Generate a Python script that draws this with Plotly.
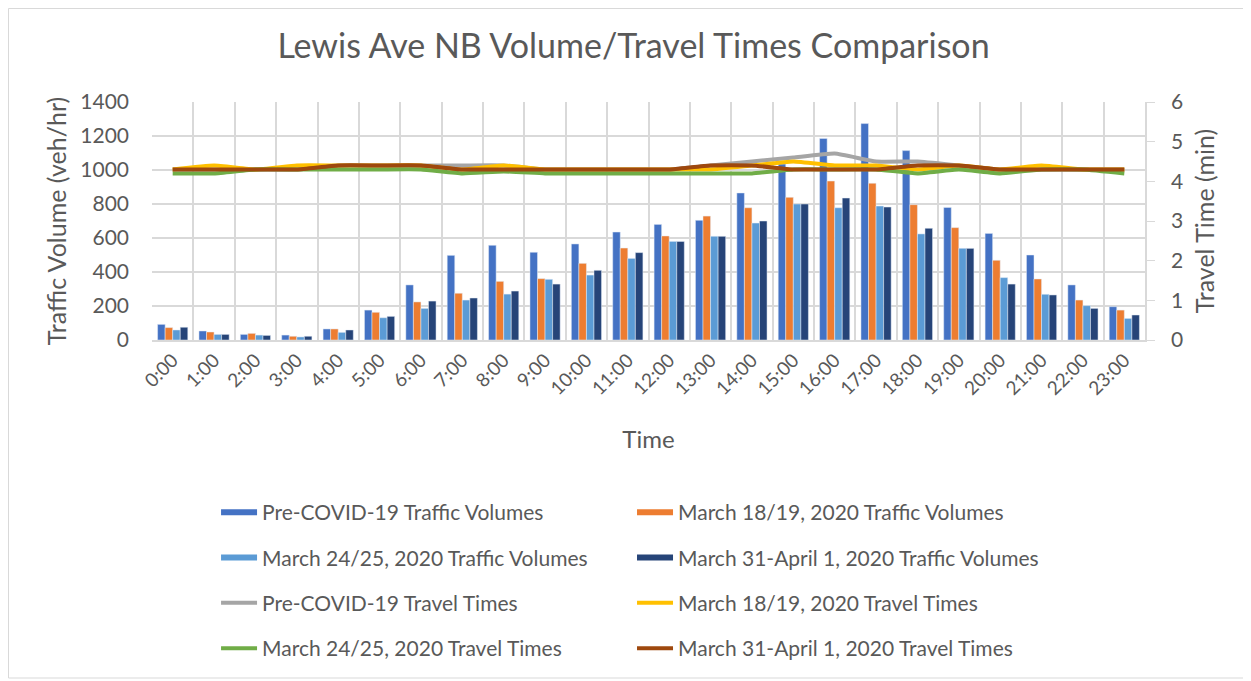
import plotly.graph_objects as go

hours = ["%d:00" % h for h in range(24)]

# traffic volumes (veh/hr)
vol_pre = [92, 53, 33, 29, 65, 176, 324, 498, 557, 516, 565, 635, 680, 704, 865, 1035, 1186, 1273, 1114, 780, 627, 500, 324, 196]
vol_mar18 = [73, 47, 39, 22, 65, 163, 224, 275, 345, 361, 451, 541, 612, 729, 778, 839, 935, 922, 796, 661, 469, 359, 235, 176]
vol_mar24 = [59, 33, 29, 18, 45, 131, 186, 235, 270, 357, 382, 480, 580, 610, 688, 800, 778, 788, 624, 539, 367, 269, 202, 127]
vol_mar31 = [75, 33, 27, 22, 59, 139, 229, 247, 288, 329, 410, 514, 580, 610, 700, 800, 835, 782, 657, 539, 329, 265, 186, 147]

# travel times (min)
tt_pre = [4.3, 4.3, 4.3, 4.3, 4.4, 4.4, 4.4, 4.4, 4.4, 4.3, 4.3, 4.3, 4.3, 4.4, 4.5, 4.6, 4.7, 4.5, 4.5, 4.4, 4.3, 4.3, 4.3, 4.3]
tt_mar18 = [4.3, 4.4, 4.3, 4.4, 4.4, 4.4, 4.4, 4.3, 4.4, 4.3, 4.3, 4.3, 4.3, 4.3, 4.4, 4.5, 4.4, 4.4, 4.3, 4.4, 4.3, 4.4, 4.3, 4.3]
tt_mar24 = [4.2, 4.2, 4.3, 4.3, 4.3, 4.3, 4.3, 4.2, 4.25, 4.2, 4.2, 4.2, 4.2, 4.2, 4.2, 4.3, 4.3, 4.3, 4.2, 4.3, 4.2, 4.3, 4.3, 4.2]
tt_mar31 = [4.3, 4.3, 4.3, 4.3, 4.4, 4.4, 4.4, 4.3, 4.3, 4.3, 4.3, 4.3, 4.3, 4.4, 4.4, 4.3, 4.3, 4.3, 4.4, 4.4, 4.3, 4.3, 4.3, 4.3]

FONT = "Lato"
GREY = "#595959"

fig = go.Figure()

bars = [
    ("Pre-COVID-19 Traffic Volumes", vol_pre, "#4472C4", "legend"),
    ("March 18/19, 2020 Traffic Volumes", vol_mar18, "#ED7D31", "legend2"),
    ("March 24/25, 2020 Traffic Volumes", vol_mar24, "#5B9BD5", "legend"),
    ("March 31-April 1, 2020 Traffic Volumes", vol_mar31, "#264478", "legend2"),
]
for i, (name, vals, col, lg) in enumerate(bars):
    fig.add_trace(go.Bar(x=hours, y=vals, name=name, marker_color=col,
                         showlegend=False, legendgroup="b%d" % i))
    # legend-only entry so the key is a wide filled block like Excel's
    fig.add_trace(go.Scatter(x=[None], y=[None], name=name, mode="none", fill="toself",
                             fillcolor=col, legend=lg, legendgroup="b%d" % i))

lines = [
    ("Pre-COVID-19 Travel Times", tt_pre, "#A5A5A5", "legend"),
    ("March 18/19, 2020 Travel Times", tt_mar18, "#FFC000", "legend2"),
    ("March 24/25, 2020 Travel Times", tt_mar24, "#70AD47", "legend"),
    ("March 31-April 1, 2020 Travel Times", tt_mar31, "#9E480E", "legend2"),
]
for i, (name, vals, col, lg) in enumerate(lines):
    fig.add_trace(go.Scatter(x=hours, y=vals, name=name, mode="lines", yaxis="y2",
                             line=dict(color=col, width=4, shape="spline", smoothing=0.4),
                             legend=lg, legendgroup="l%d" % i))

leg = dict(font=dict(family=FONT, size=21, color=GREY), traceorder="grouped",
           tracegroupgap=15, yanchor="top", bgcolor="rgba(0,0,0,0)", itemwidth=36)

# plot area (figure px): left 144, top 94, width 993, height 238
fig.update_layout(
    width=1251, height=681,
    margin=dict(l=144, r=114, t=94, b=349),
    paper_bgcolor="white", plot_bgcolor="white",
    font=dict(family=FONT, color=GREY),
    title=dict(text="Lewis Ave NB Volume/Travel Times Comparison", x=0.5, xanchor="center",
               y=0.944, yanchor="middle", font=dict(family=FONT, size=34, color=GREY)),
    barmode="group", bargap=0.27, bargroupgap=0,
    xaxis=dict(tickson="boundaries", showgrid=True, gridcolor="#D9D9D9", gridwidth=1.5,
               tickangle=-45, tickfont=dict(size=19, color=GREY), ticks="",
               showline=True, linecolor="#D9D9D9", linewidth=1.5,
               title=dict(text="Time", font=dict(size=24, color=GREY), standoff=33)),
    yaxis=dict(range=[0, 1400], dtick=200, showgrid=True, gridcolor="#D9D9D9", gridwidth=1.5,
               tickfont=dict(size=21, color=GREY), zeroline=False, ticklabelstandoff=22,
               title=dict(text="Traffic Volume (veh/hr)", font=dict(size=25, color=GREY), standoff=6)),
    yaxis2=dict(range=[0, 6], dtick=1, overlaying="y", side="right", showgrid=False, zeroline=False,
                showline=True, linecolor="#D9D9D9", linewidth=1.5, ticks="outside", ticklen=8,
                tickcolor="#D9D9D9", tickfont=dict(size=21, color=GREY), ticklabelstandoff=12,
                title=dict(text="Travel Time (min)", font=dict(size=25, color=GREY), standoff=14)),
    legend=dict(leg, x=0.0645, y=-0.639),
    legend2=dict(leg, x=0.4834, y=-0.639),
    shapes=[dict(type="rect", xref="paper", yref="paper",
                 x0=-143.5 / 993, x1=1096 / 993, y0=-338 / 238, y1=331.5 / 238,
                 line=dict(color="#D9D9D9", width=1), layer="below")],
)

fig.write_html("out.html")
